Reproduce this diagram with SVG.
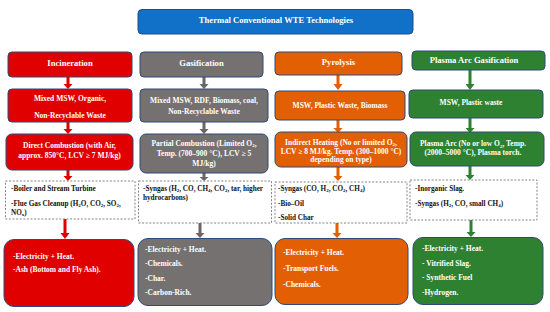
<svg xmlns="http://www.w3.org/2000/svg" width="550" height="312" viewBox="0 0 550 312">
<style>
.t{font-family:"Liberation Serif","Times New Roman",serif;font-weight:bold;font-size:7.5px;fill:#fff}
.h{font-size:8.6px}
.d{font-family:"Liberation Serif","Times New Roman",serif;font-weight:bold;font-size:7.2px;fill:#111}
.b{stroke:#2F4A78;stroke-width:1}
.red{fill:#E00000}.gray{fill:#767171}.org{fill:#E35F04}.grn{fill:#2E8130}
.dash{fill:#fff;stroke:#777;stroke-width:0.9;stroke-dasharray:2,1.6}
</style>
<rect width="550" height="312" fill="#fff"/>
<g id="title">
<rect x="138" y="9.5" width="275" height="24.5" rx="4" fill="#1170C8" stroke="#1B4F8A" stroke-width="1"/>
<text class="t h" x="276" y="21" text-anchor="middle" dominant-baseline="middle">Thermal Conventional WTE Technologies</text>
</g>
<g id="connectors">
<g fill="#E00000">
<path d="M66.5,77v7h-3l4.5,5l4.5-5h-3v-7z"/>
<path d="M66.5,122v7h-3l4.5,5l4.5-5h-3v-7z"/>
<path d="M66.5,170v6h-3l4.5,5l4.5-5h-3v-6z"/>
<path d="M63.5,219v14h-3l4.5,6l4.5-6h-3v-14z"/>
</g>
<g fill="#6B6666">
<path d="M202.5,77v7h-3l4.5,5l4.5-5h-3v-7z"/>
<path d="M202.5,122v7h-3l4.5,5l4.5-5h-3v-7z"/>
<path d="M202.5,173v4h-3l4.5,4l4.5-4h-3v-4z"/>
<path d="M198.5,223v10h-3l4.5,5l4.5-5h-3v-10z"/>
</g>
<g fill="#E35F04">
<path d="M336.5,75v9h-3l4.5,6l4.5-6h-3v-9z"/>
<path d="M336.5,120v8h-3l4.5,5l4.5-5h-3v-8z"/>
<path d="M336.5,167v9h-3l4.5,5l4.5-5h-3v-9z"/>
<path d="M335.5,223v10h-3l4.5,5l4.5-5h-3v-10z"/>
</g>
<g fill="#2E8130">
<path d="M468.5,70v14h-3l4.5,6l4.5-6h-3v-14z"/>
<path d="M468.5,118v10h-3l4.5,5l4.5-5h-3v-10z"/>
<path d="M468.5,166v9h-3l4.5,5l4.5-5h-3v-9z"/>
<path d="M469.5,220v12h-3l4.5,5l4.5-5h-3v-12z"/>
</g>
</g>
<g id="inc-head"><rect class="b red" x="8" y="52" width="124" height="25" rx="4"/><text class="t h" x="70" y="64.5" text-anchor="middle" dominant-baseline="middle">Incineration</text></g>
<g id="inc-feed"><rect class="b red" x="8" y="89" width="124" height="33" rx="4"/>
<text class="t" x="70" y="100.5" text-anchor="middle">Mixed MSW, Organic,</text>
<text class="t" x="70" y="117.5" text-anchor="middle">Non-Recyclable Waste</text></g>
<g id="inc-proc"><rect class="b red" x="6" y="134" width="127" height="36" rx="6"/>
<text class="t" x="69.5" y="147.5" text-anchor="middle">Direct Combustion (with Air,</text>
<text class="t" x="69.5" y="157.5" text-anchor="middle">approx. 850°C, LCV ≥ 7 MJ/kg)</text></g>
<g id="inc-mid"><rect class="dash" x="5.5" y="181" width="129.5" height="38"/>
<text class="d" x="11" y="190.5">-Boiler and Stream Turbine</text>
<text class="d" x="11" y="205.5">-Flue Gas Cleanup (H<tspan font-size="5" dy="1.5">2</tspan><tspan dy="-1.5">O, CO</tspan><tspan font-size="5" dy="1.5">2</tspan><tspan dy="-1.5">, SO</tspan><tspan font-size="5" dy="1.5">2</tspan><tspan dy="-1.5">,</tspan></text>
<text class="d" x="11" y="214.5">NO<tspan font-size="5" dy="1.5">x</tspan><tspan dy="-1.5">)</tspan></text></g>
<g id="inc-out"><rect class="b red" x="4" y="239.5" width="130" height="67" rx="10"/>
<text class="t" x="13" y="258.5">-Electricity + Heat.</text>
<text class="t" x="13" y="272">-Ash (Bottom and Fly Ash).</text></g>

<g id="gas-head"><rect class="b gray" x="140" y="52" width="123" height="25" rx="4"/><text class="t h" x="201.5" y="64.5" text-anchor="middle" dominant-baseline="middle">Gasification</text></g>
<g id="gas-feed"><rect class="b gray" x="140" y="89" width="128" height="33" rx="4"/>
<text class="t" x="204" y="102.5" text-anchor="middle">Mixed MSW, RDF, Biomass, coal,</text>
<text class="t" x="204" y="113.5" text-anchor="middle">Non-Recyclable Waste</text></g>
<g id="gas-proc"><rect class="b gray" x="140" y="134" width="128" height="39" rx="6"/>
<text class="t" x="204" y="145.5" text-anchor="middle">Partial Combustion (Limited O<tspan font-size="5" dy="1.5">2</tspan><tspan dy="-1.5">,</tspan></text>
<text class="t" x="204" y="155.5" text-anchor="middle">Temp. (700–900 °C), LCV ≥ 5</text>
<text class="t" x="204" y="165.5" text-anchor="middle">MJ/kg)</text></g>
<g id="gas-mid"><rect class="dash" x="138.5" y="181" width="133" height="42"/>
<text class="d" x="143" y="190.5">-Syngas (H<tspan font-size="5" dy="1.5">2</tspan><tspan dy="-1.5">, CO, CH</tspan><tspan font-size="5" dy="1.5">4</tspan><tspan dy="-1.5">, CO</tspan><tspan font-size="5" dy="1.5">2</tspan><tspan dy="-1.5">, tar, higher</tspan></text>
<text class="d" x="143" y="199.5">hydrocarbons)</text></g>
<g id="gas-out"><rect class="b gray" x="138" y="238.5" width="134" height="67" rx="10"/>
<text class="t" x="145" y="251.5">-Electricity + Heat.</text>
<text class="t" x="145" y="266">-Chemicals.</text>
<text class="t" x="145" y="280.5">-Char.</text>
<text class="t" x="145" y="295">-Carbon-Rich.</text></g>

<g id="pyr-head"><rect class="b org" x="275" y="52" width="127" height="23" rx="4"/><text class="t h" x="338.5" y="63.5" text-anchor="middle" dominant-baseline="middle">Pyrolysis</text></g>
<g id="pyr-feed"><rect class="b org" x="275" y="91" width="130" height="29" rx="4"/>
<text class="t" x="340" y="108" text-anchor="middle">MSW, Plastic Waste, Biomass</text></g>
<g id="pyr-proc"><rect class="b org" x="275" y="132" width="132" height="35" rx="6"/>
<text class="t" x="341" y="144.5" text-anchor="middle">Indirect Heating (No or limited O<tspan font-size="5" dy="1.5">2</tspan><tspan dy="-1.5">,</tspan></text>
<text class="t" x="341" y="153.5" text-anchor="middle">LCV ≥ 8 MJ/kg. Temp. (300–1000 °C)</text>
<text class="t" x="341" y="162" text-anchor="middle">depending on type)</text></g>
<g id="pyr-mid"><rect class="dash" x="275" y="182" width="132" height="41"/>
<text class="d" x="278" y="190.5">-Syngas (CO, H<tspan font-size="5" dy="1.5">2</tspan><tspan dy="-1.5">, CO</tspan><tspan font-size="5" dy="1.5">2</tspan><tspan dy="-1.5">, CH</tspan><tspan font-size="5" dy="1.5">4</tspan><tspan dy="-1.5">)</tspan></text>
<text class="d" x="278" y="205.5">-Bio–Oil</text>
<text class="d" x="278" y="220">-Solid Char</text></g>
<g id="pyr-out"><rect class="b org" x="275" y="238.5" width="133" height="66" rx="10"/>
<text class="t" x="283" y="254.5">-Electricity + Heat.</text>
<text class="t" x="283" y="271">-Transport Fuels.</text>
<text class="t" x="283" y="287">-Chemicals.</text></g>

<g id="pla-head"><rect class="b grn" x="412" y="51" width="133" height="19" rx="4"/><text class="t h" x="474" y="61" text-anchor="middle" dominant-baseline="middle">Plasma Arc Gasification</text></g>
<g id="pla-feed"><rect class="b grn" x="409" y="90" width="134" height="28" rx="4"/>
<text class="t" x="471" y="104.5" text-anchor="middle">MSW, Plastic waste</text></g>
<g id="pla-proc"><rect class="b grn" x="410" y="132" width="134" height="34" rx="6"/>
<text class="t" x="473" y="146" text-anchor="middle">Plasma Arc (No or low O<tspan font-size="5" dy="1.5">2</tspan><tspan dy="-1.5">, Temp.</tspan></text>
<text class="t" x="473" y="155" text-anchor="middle">(2000–5000 °C), Plasma torch.</text></g>
<g id="pla-mid"><rect class="dash" x="410" y="180" width="127" height="40"/>
<text class="d" x="415" y="190.5">-Inorganic Slag.</text>
<text class="d" x="415" y="205.5">-Syngas (H<tspan font-size="5" dy="1.5">2</tspan><tspan dy="-1.5">, CO, small CH</tspan><tspan font-size="5" dy="1.5">4</tspan><tspan dy="-1.5">)</tspan></text></g>
<g id="pla-out"><rect class="b grn" x="413" y="237.5" width="130" height="67" rx="10"/>
<text class="t" x="422" y="250.5">-Electricity + Heat.</text>
<text class="t" x="422" y="265.5">- Vitrified Slag.</text>
<text class="t" x="422" y="280">- Synthetic Fuel</text>
<text class="t" x="422" y="295">-Hydrogen.</text></g>
</svg>
